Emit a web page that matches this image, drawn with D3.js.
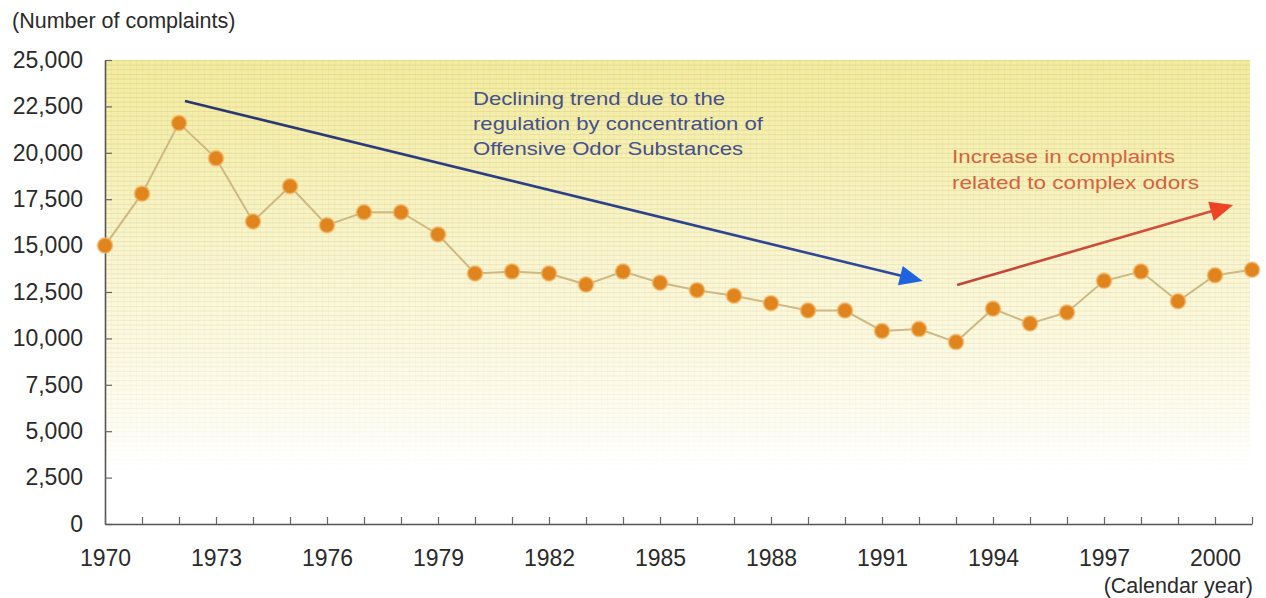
<!DOCTYPE html>
<html>
<head>
<meta charset="utf-8">
<script src="https://cdn.jsdelivr.net/npm/d3@7"></script>
<style>
  html, body { margin: 0; padding: 0; background: #fff; }
  svg { display: block; font-family: "Liberation Sans", Arial, Helvetica, sans-serif; }
</style>
</head>
<body>
<svg id="chart" width="1266" height="598"></svg>
<script>
// Annual number of offensive odor complaints, 1970-2001
const years = d3.range(1970, 2002);
const complaints = [
  15000, 17800, 21600, 19700, 16300, 18200, 16100, 16800, 16800, 15600,
  13500, 13600, 13500, 12900, 13600, 13000, 12600, 12300, 11900, 11500,
  11500, 10400, 10500, 9800, 11600, 10800, 11400, 13100, 13600, 12000,
  13400, 13700
];
const yTicks = [0, 2500, 5000, 7500, 10000, 12500, 15000, 17500, 20000, 22500, 25000];
const xLabelYears = [1970, 1973, 1976, 1979, 1982, 1985, 1988, 1991, 1994, 1997, 2000];

// Trend arrows, endpoints given as [year, complaints]
const declineArrow = [[1972.16, 22790], [1992.1, 13090]];
const increaseArrow = [[1993.03, 12880], [2000.49, 17190]];

const declineText = ["Declining trend due to the", "regulation by concentration of", "Offensive Odor Substances"];
const increaseText = ["Increase in complaints", "related to complex odors"];

const svg = d3.select("#chart");
const x = d3.scaleLinear().domain([1970, 2001]).range([105, 1252]);
const y = d3.scaleLinear().domain([0, 25000]).range([524, 60]);

const defs = svg.append("defs");

// yellow-to-white wash behind the plot
const bg = defs.append("linearGradient").attr("id", "wash")
  .attr("x1", 0).attr("y1", 0).attr("x2", 0).attr("y2", 1);
[[0, "#f3ec9e"], [0.2, "#f6f0b4"], [0.45, "#faf6d4"], [0.65, "#fcfae6"], [0.8, "#fefdf6"], [0.86, "#ffffff"], [1, "#ffffff"]]
  .forEach(([o, c]) => bg.append("stop").attr("offset", o).attr("stop-color", c));

// fine graph-paper texture, faded out towards the bottom
const pat = defs.append("pattern").attr("id", "paper")
  .attr("patternUnits", "userSpaceOnUse").attr("width", 6.2).attr("height", 4.64)
  .attr("x", 105).attr("y", 60);
pat.append("line").attr("x1", 0).attr("x2", 6.2).attr("y1", 0.5).attr("y2", 0.5)
  .attr("stroke", "#c9c07a").attr("stroke-width", 0.8).attr("stroke-opacity", 0.45);
pat.append("line").attr("x1", 0.5).attr("x2", 0.5).attr("y1", 0).attr("y2", 4.64)
  .attr("stroke", "#c9c07a").attr("stroke-width", 0.6).attr("stroke-opacity", 0.25);

const fade = defs.append("linearGradient").attr("id", "fade")
  .attr("x1", 0).attr("y1", 0).attr("x2", 0).attr("y2", 1);
[[0, 1], [0.5, 0.7], [0.8, 0.25], [0.9, 0]]
  .forEach(([o, a]) => fade.append("stop").attr("offset", o).attr("stop-color", "#fff").attr("stop-opacity", a));
defs.append("mask").attr("id", "fadeMask")
  .append("rect").attr("x", 105).attr("y", 60).attr("width", 1145).attr("height", 464)
  .attr("fill", "url(#fade)");

const plotW = 1250 - x(1970);
svg.append("rect").attr("x", x(1970)).attr("y", y(25000))
  .attr("width", plotW).attr("height", y(0) - y(25000)).attr("fill", "url(#wash)");
svg.append("rect").attr("x", x(1970)).attr("y", y(25000))
  .attr("width", plotW).attr("height", y(0) - y(25000))
  .attr("fill", "url(#paper)").attr("mask", "url(#fadeMask)");

// axes
const yAxis = d3.axisLeft(y).tickValues(yTicks).tickFormat(d3.format(","))
  .tickSize(-7).tickSizeOuter(0).tickPadding(22);
const gy = svg.append("g").attr("transform", `translate(${x(1970)},0)`).call(yAxis);

const xAxis = d3.axisBottom(x).tickValues(years)
  .tickFormat(d => xLabelYears.includes(d) ? String(d) : "")
  .tickSize(-7).tickSizeOuter(0).tickPadding(26);
const gx = svg.append("g").attr("transform", `translate(0,${y(0)})`).call(xAxis);

[gy, gx].forEach(g => {
  g.select(".domain").attr("stroke", "#555").attr("stroke-width", 1.6);
  g.selectAll(".tick line").attr("stroke", "#666").attr("stroke-width", 1.2);
  g.selectAll(".tick text").attr("fill", "#2b2b2b").attr("font-size", 23)
    .attr("font-family", "'Liberation Sans', Arial, sans-serif");
});

// axis titles
svg.append("text").attr("x", 12).attr("y", 28).attr("font-size", 21.5)
  .attr("fill", "#2b2b2b").text("(Number of complaints)");
svg.append("text").attr("x", 1253).attr("y", 593).attr("font-size", 21.5)
  .attr("text-anchor", "end").attr("fill", "#2b2b2b").text("(Calendar year)");

// data line and markers
const pts = years.map((yr, i) => [yr, complaints[i]]);
svg.append("path").datum(pts)
  .attr("fill", "none").attr("stroke", "#cdb981").attr("stroke-width", 2)
  .attr("d", d3.line().x(d => x(d[0])).y(d => y(d[1])));
svg.append("g").selectAll("circle").data(pts).join("circle")
  .attr("cx", d => x(d[0])).attr("cy", d => y(d[1])).attr("r", 7.5)
  .attr("fill", "#e0841d").attr("stroke", "#f3b86a").attr("stroke-opacity", 0.6).attr("stroke-width", 2);

// arrows
function arrow(ends, lineFrom, lineTo, headColor, id) {
  const [p0, p1] = ends.map(d => [x(d[0]), y(d[1])]);
  const ang = Math.atan2(p1[1] - p0[1], p1[0] - p0[0]);
  const headLen = 23, headHalf = 10;
  const base = [p1[0] - headLen * Math.cos(ang), p1[1] - headLen * Math.sin(ang)];
  const g = defs.append("linearGradient").attr("id", id).attr("gradientUnits", "userSpaceOnUse")
    .attr("x1", p0[0]).attr("y1", p0[1]).attr("x2", base[0]).attr("y2", base[1]);
  g.append("stop").attr("offset", 0).attr("stop-color", lineFrom);
  g.append("stop").attr("offset", 1).attr("stop-color", lineTo);
  svg.append("line").attr("x1", p0[0]).attr("y1", p0[1])
    .attr("x2", base[0] + 3 * Math.cos(ang)).attr("y2", base[1] + 3 * Math.sin(ang))
    .attr("stroke", `url(#${id})`).attr("stroke-width", 2.6);
  const nx = -Math.sin(ang), ny = Math.cos(ang);
  svg.append("path")
    .attr("d", `M${p1[0]},${p1[1]}L${base[0] + nx * headHalf},${base[1] + ny * headHalf}` +
               `L${base[0] - nx * headHalf},${base[1] - ny * headHalf}Z`)
    .attr("fill", headColor);
}
arrow(declineArrow, "#2c356e", "#2f4a9c", "#1f63e0", "gradDecline");
arrow(increaseArrow, "#c0463a", "#d8503a", "#ec4424", "gradIncrease");

// annotation text
const declineWidths = [252, 290, 270];
svg.append("g").selectAll("text").data(declineText).join("text")
  .attr("x", 473).attr("y", (d, i) => 105 + i * 25)
  .attr("font-size", 19).attr("fill", "#45508c")
  .attr("textLength", (d, i) => declineWidths[i]).attr("lengthAdjust", "spacingAndGlyphs")
  .text(d => d);

const increaseWidths = [223, 247];
svg.append("g").selectAll("text").data(increaseText).join("text")
  .attr("x", 952).attr("y", (d, i) => 163 + i * 26)
  .attr("font-size", 19).attr("fill", "#d4643e")
  .attr("textLength", (d, i) => increaseWidths[i]).attr("lengthAdjust", "spacingAndGlyphs")
  .text(d => d);
</script>
</body>
</html>
